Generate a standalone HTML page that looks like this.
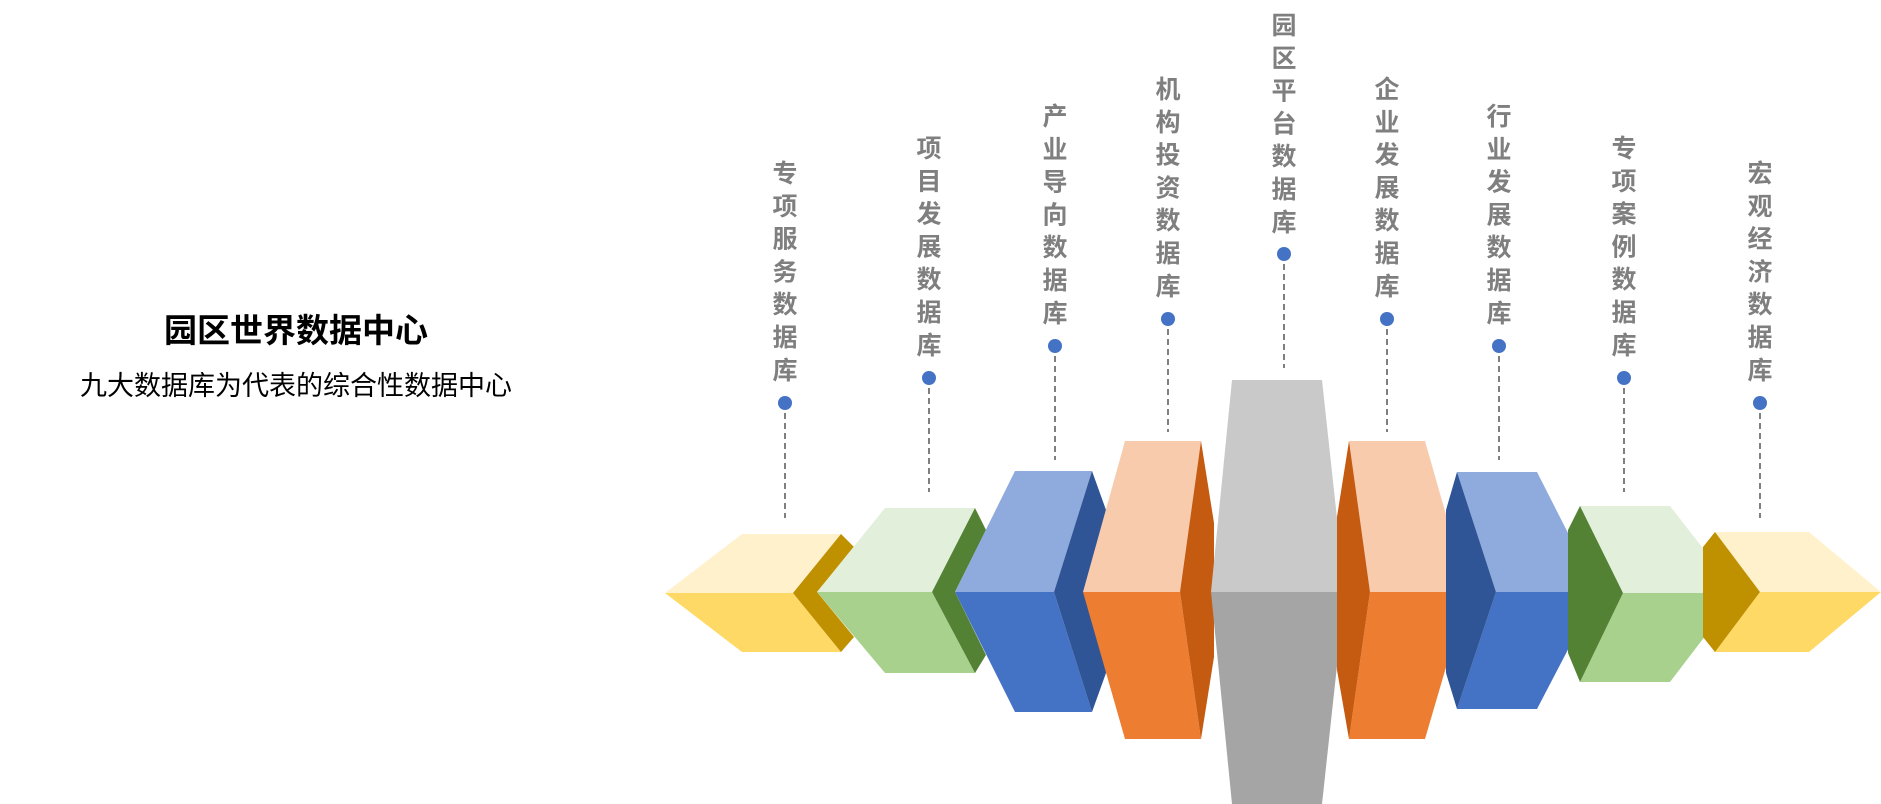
<!DOCTYPE html>
<html><head><meta charset="utf-8"><style>
html,body{margin:0;padding:0;background:#fff;}
svg{display:block}
</style></head><body>
<svg width="1881" height="804" viewBox="0 0 1881 804" xmlns="http://www.w3.org/2000/svg" font-family="Liberation Sans, Noto Sans CJK SC, sans-serif">
<text x="296" y="342" text-anchor="middle" font-size="33" font-weight="bold" fill="#000">园区世界数据中心</text>
<text x="296" y="395" text-anchor="middle" font-size="27" fill="#000">九大数据库为代表的综合性数据中心</text>

<!-- left yellow -->
<polygon points="665,593 742,534 841,534 793,593" fill="#fff1cc"/>
<polygon points="665,593 742,652 841,652 793,593" fill="#ffd966"/>
<polygon points="841,534 854,547 817,592 854,637 841,652 793,593" fill="#bf9000"/>
<!-- left green -->
<polygon points="817,592 885,508 975,508 932,592" fill="#e2efda"/>
<polygon points="817,592 885,673 975,673 932,592" fill="#a9d18e"/>
<polygon points="975,508 986,530 955,592 986,655 975,673 932,592" fill="#548235"/>
<!-- left blue -->
<polygon points="955,592 1015,471 1092,471 1054,592" fill="#8faadc"/>
<polygon points="955,592 1015,712 1092,712 1054,592" fill="#4472c4"/>
<polygon points="1092,471 1106,510 1106,673 1092,712 1054,592" fill="#2f5597"/>
<!-- left orange -->
<polygon points="1083,592 1125,441 1201,441 1180,592" fill="#f8cbad"/>
<polygon points="1083,592 1125,739 1201,739 1180,592" fill="#ed7d31"/>
<polygon points="1201,441 1214,523 1214,657 1201,739 1180,592" fill="#c55a11"/>
<!-- gray -->
<polygon points="1211,592 1232,380 1322,380 1345,592" fill="#c9c9c9"/>
<polygon points="1211,592 1232,804 1322,804 1345,592" fill="#a5a5a5"/>
<!-- right orange -->
<polygon points="1370,592 1349,441 1425,441 1468,592" fill="#f8cbad"/>
<polygon points="1370,592 1349,739 1425,739 1468,592" fill="#ed7d31"/>
<polygon points="1349,441 1337,517 1337,670 1349,739 1370,592" fill="#c55a11"/>
<!-- right blue -->
<polygon points="1496,592 1457,472 1537,472 1598,592" fill="#8faadc"/>
<polygon points="1496,592 1457,709 1537,709 1598,592" fill="#4472c4"/>
<polygon points="1457,472 1446,510 1446,673 1457,709 1496,592" fill="#2f5597"/>
<!-- right green -->
<polygon points="1623,593 1580,506 1670,506 1738,593" fill="#e2efda"/>
<polygon points="1623,593 1580,682 1670,682 1738,593" fill="#a9d18e"/>
<polygon points="1580,506 1568,530 1568,653 1580,682 1623,593" fill="#548235"/>
<!-- right yellow -->
<polygon points="1760,592 1715,532 1809,532 1881,592" fill="#fff1cc"/>
<polygon points="1760,592 1715,652 1809,652 1881,592" fill="#ffd966"/>
<polygon points="1715,532 1703,547 1703,637 1715,652 1760,592" fill="#bf9000"/>

<g stroke="#7f7f7f" stroke-width="2" stroke-dasharray="6,4">
<line x1="785" y1="403" x2="785" y2="518"/>
<line x1="929" y1="378" x2="929" y2="492"/>
<line x1="1055" y1="346" x2="1055" y2="460"/>
<line x1="1168" y1="319" x2="1168" y2="432"/>
<line x1="1284" y1="254" x2="1284" y2="368"/>
<line x1="1387" y1="319" x2="1387" y2="432"/>
<line x1="1499" y1="346" x2="1499" y2="460"/>
<line x1="1624" y1="378" x2="1624" y2="492"/>
<line x1="1760" y1="403" x2="1760" y2="518"/>
</g>
<g fill="#4472c4">
<circle cx="785" cy="403" r="7"/><circle cx="929" cy="378" r="7"/><circle cx="1055" cy="346" r="7"/>
<circle cx="1168" cy="319" r="7"/><circle cx="1284" cy="254" r="7"/><circle cx="1387" cy="319" r="7"/>
<circle cx="1499" cy="346" r="7"/><circle cx="1624" cy="378" r="7"/><circle cx="1760" cy="403" r="7"/>
</g>
<g font-size="25" font-weight="bold" fill="#7f7f7f" text-anchor="middle">
<text x="785" y="182"><tspan x="785">专</tspan><tspan x="785" dy="32.8">项</tspan><tspan x="785" dy="32.8">服</tspan><tspan x="785" dy="32.8">务</tspan><tspan x="785" dy="32.8">数</tspan><tspan x="785" dy="32.8">据</tspan><tspan x="785" dy="32.8">库</tspan></text>
<text x="929" y="157"><tspan x="929">项</tspan><tspan x="929" dy="32.8">目</tspan><tspan x="929" dy="32.8">发</tspan><tspan x="929" dy="32.8">展</tspan><tspan x="929" dy="32.8">数</tspan><tspan x="929" dy="32.8">据</tspan><tspan x="929" dy="32.8">库</tspan></text>
<text x="1055" y="125"><tspan x="1055">产</tspan><tspan x="1055" dy="32.8">业</tspan><tspan x="1055" dy="32.8">导</tspan><tspan x="1055" dy="32.8">向</tspan><tspan x="1055" dy="32.8">数</tspan><tspan x="1055" dy="32.8">据</tspan><tspan x="1055" dy="32.8">库</tspan></text>
<text x="1168" y="98"><tspan x="1168">机</tspan><tspan x="1168" dy="32.8">构</tspan><tspan x="1168" dy="32.8">投</tspan><tspan x="1168" dy="32.8">资</tspan><tspan x="1168" dy="32.8">数</tspan><tspan x="1168" dy="32.8">据</tspan><tspan x="1168" dy="32.8">库</tspan></text>
<text x="1284" y="34"><tspan x="1284">园</tspan><tspan x="1284" dy="32.8">区</tspan><tspan x="1284" dy="32.8">平</tspan><tspan x="1284" dy="32.8">台</tspan><tspan x="1284" dy="32.8">数</tspan><tspan x="1284" dy="32.8">据</tspan><tspan x="1284" dy="32.8">库</tspan></text>
<text x="1387" y="98"><tspan x="1387">企</tspan><tspan x="1387" dy="32.8">业</tspan><tspan x="1387" dy="32.8">发</tspan><tspan x="1387" dy="32.8">展</tspan><tspan x="1387" dy="32.8">数</tspan><tspan x="1387" dy="32.8">据</tspan><tspan x="1387" dy="32.8">库</tspan></text>
<text x="1499" y="125"><tspan x="1499">行</tspan><tspan x="1499" dy="32.8">业</tspan><tspan x="1499" dy="32.8">发</tspan><tspan x="1499" dy="32.8">展</tspan><tspan x="1499" dy="32.8">数</tspan><tspan x="1499" dy="32.8">据</tspan><tspan x="1499" dy="32.8">库</tspan></text>
<text x="1624" y="157"><tspan x="1624">专</tspan><tspan x="1624" dy="32.8">项</tspan><tspan x="1624" dy="32.8">案</tspan><tspan x="1624" dy="32.8">例</tspan><tspan x="1624" dy="32.8">数</tspan><tspan x="1624" dy="32.8">据</tspan><tspan x="1624" dy="32.8">库</tspan></text>
<text x="1760" y="182"><tspan x="1760">宏</tspan><tspan x="1760" dy="32.8">观</tspan><tspan x="1760" dy="32.8">经</tspan><tspan x="1760" dy="32.8">济</tspan><tspan x="1760" dy="32.8">数</tspan><tspan x="1760" dy="32.8">据</tspan><tspan x="1760" dy="32.8">库</tspan></text>
</g>
</svg>
</body></html>
